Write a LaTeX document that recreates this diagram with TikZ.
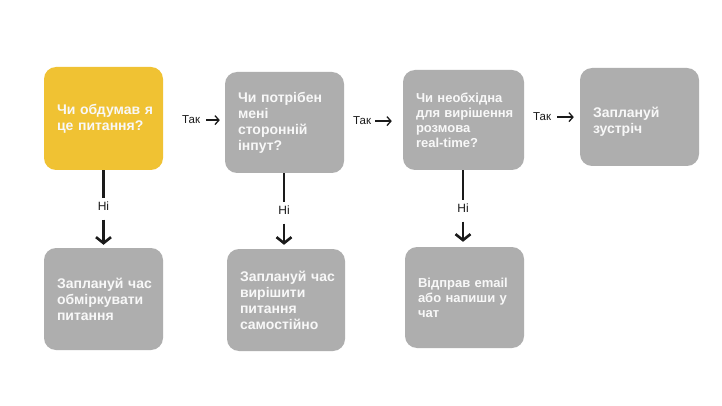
\documentclass[tikz,border=0pt]{standalone}
\usepackage{fontspec}
\setmainfont{Liberation Sans}
\usetikzlibrary{arrows.meta,calc}
\definecolor{ylw}{HTML}{F0C233}
\definecolor{gry}{HTML}{AEAEAE}
\definecolor{txt}{HTML}{F8F8F8}
\definecolor{ink}{HTML}{1A1A1A}
\begin{document}
\begin{tikzpicture}[x=1pt,y=-1pt,
  box/.style={rounded corners=12pt, fill=gry, text=txt, align=left,
    inner xsep=13pt, inner ysep=0pt, anchor=center,
    font=\bfseries\fontsize{14}{16}\selectfont},
  smallbox/.style={font=\bfseries\fontsize{13}{15}\selectfont},
  lbl/.style={font=\fontsize{11.5}{13}\selectfont, text=ink, inner sep=0pt},
  nlbl/.style={font=\fontsize{12}{13}\selectfont, text=ink, inner sep=0pt},
  varr/.style={line width=2.6pt, draw=ink, -{Straight Barb[length=6pt,width=15pt]}},
  vline/.style={line width=2.6pt, draw=ink},
  harr/.style={line width=1.3pt, draw=ink, -{Straight Barb[length=4pt,width=9pt]}}]
\useasboundingbox (0,0) rectangle (722,406);
\fill[white] (0,0) rectangle (722,406);

% top row
\node[box, fill=ylw, text width=93pt, minimum height=103pt] (b1) at (103.5,118.5)
  {Чи~обдумав~я\\це~питання?};
\node[box, text width=93pt, minimum height=101pt] (b2) at (284.5,122.5)
  {Чи~потрібен\\мені\\сторонній\\інпут?};
\node[box, smallbox, text width=95pt, minimum height=100pt] (b3) at (463.5,120)
  {Чи~необхідна\\для~вирішення\\розмова\\real-time?};
\node[box, text width=93pt, minimum height=98pt] (b4) at (639.5,117)
  {\rule{0pt}{20pt}Заплануй\\зустріч};

% bottom row
\node[box, text width=93pt, minimum height=102pt] (b5) at (103.5,299)
  {Заплануй~час\\обміркувати\\питання};
\node[box, text width=92pt, minimum height=102pt] (b6) at (286,300)
  {Заплануй~час\\вирішити\\питання\\самостійно};
\node[box, smallbox, text width=93pt, minimum height=101pt] (b7) at (464.5,297.5)
  {Відправ~email\\або~напиши~у\\чат};

% "Так" labels
\node[lbl, anchor=base west] (t1) at (182,124) {Так};
\node[lbl, anchor=base west] (t2) at (353,125) {Так};
\node[lbl, anchor=base west] (t3) at (533,121) {Так};
\draw[harr, shorten <=6pt, shorten >=5pt] (t1.east) -- (t1.east -| b2.west);
\draw[harr, shorten <=4pt, shorten >=11pt] (t2.east) -- (t2.east -| b3.west);
\draw[harr, shorten <=6pt, shorten >=6pt] (t3.east) -- (t3.east -| b4.west);

% "Ні" labels and down arrows
\node[nlbl] (n1) at ($(b1.south)+(0,36)$) {Ні};
\node[nlbl] (n2) at ($(b2.south)+(-0.5,37)$) {Ні};
\node[nlbl] (n3) at ($(b3.south)+(-0.5,38)$) {Ні};
\draw[vline] (b1.south) -- ([yshift=4pt]n1.north);
\draw[varr, shorten >=3pt] ([yshift=-9pt]n1.south) -- (n1 |- b5.north);
\draw[vline] (n2 |- b2.south) -- ([yshift=4pt]n2.north);
\draw[varr, shorten >=4pt] ([yshift=-9pt]n2.south) -- (n2 |- b6.north);
\draw[vline] (n3 |- b3.south) -- ([yshift=4pt]n3.north);
\draw[varr, shorten >=5pt] ([yshift=-9pt]n3.south) -- (n3 |- b7.north);
\end{tikzpicture}
\end{document}
